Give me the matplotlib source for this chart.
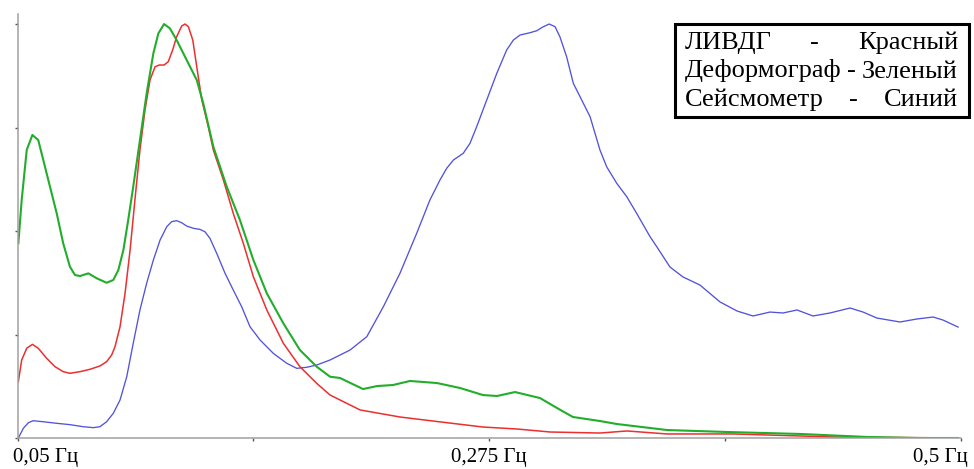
import numpy as np
import matplotlib
matplotlib.use("Agg")
import matplotlib.pyplot as plt
from matplotlib.patches import Rectangle
from matplotlib.transforms import ScaledTranslation

# frequency, Hz / relative amplitude
f_green = [0.0504, 0.0520, 0.0544, 0.0571, 0.0599, 0.0623, 0.0655, 0.0687, 0.0718, 0.0750,
           0.0774, 0.0798, 0.0838, 0.0878, 0.0925, 0.0957, 0.0981, 0.1005, 0.1028, 0.1052,
           0.1084, 0.1116, 0.1148, 0.1172, 0.1199, 0.1227, 0.1259, 0.1307, 0.1355, 0.1386,
           0.1434, 0.1498, 0.1561, 0.1625, 0.1689, 0.1768, 0.1847, 0.1927, 0.1991, 0.2038,
           0.2148, 0.2215, 0.2291, 0.2372, 0.2501, 0.2611, 0.2720, 0.2787, 0.2873, 0.2992,
           0.3073, 0.3149, 0.3278, 0.3359, 0.3598, 0.3884, 0.4232, 0.4552, 0.4790, 0.4986]
a_green = [1.881, 2.300, 2.783, 2.928, 2.879, 2.686, 2.428, 2.171, 1.881, 1.655,
           1.575, 1.565, 1.591, 1.543, 1.500, 1.527, 1.623, 1.816, 2.106, 2.428,
           2.879, 3.330, 3.717, 3.910, 4.000, 3.958, 3.845, 3.652, 3.459, 3.234,
           2.815, 2.428, 2.106, 1.720, 1.398, 1.108, 0.850, 0.689, 0.592, 0.580,
           0.473, 0.502, 0.512, 0.551, 0.531, 0.483, 0.415, 0.406, 0.444, 0.386,
           0.290, 0.203, 0.164, 0.135, 0.077, 0.058, 0.039, 0.010, 0.0, 0.0]

f_red = [0.0504, 0.0520, 0.0544, 0.0571, 0.0599, 0.0639, 0.0679, 0.0718, 0.0750, 0.0798,
         0.0846, 0.0893, 0.0925, 0.0949, 0.0965, 0.0989, 0.1013, 0.1037, 0.1060, 0.1084,
         0.1108, 0.1132, 0.1156, 0.1176, 0.1199, 0.1219, 0.1240, 0.1259, 0.1283, 0.1299,
         0.1315, 0.1336, 0.1355, 0.1379, 0.1410, 0.1434, 0.1482, 0.1529, 0.1577, 0.1625,
         0.1689, 0.1768, 0.1847, 0.1927, 0.1991, 0.2134, 0.2324, 0.2482, 0.2720, 0.2882,
         0.3040, 0.3278, 0.3407, 0.3598, 0.3913, 0.4390, 0.4986]
a_red = [0.544, 0.754, 0.867, 0.905, 0.867, 0.770, 0.689, 0.641, 0.625, 0.641,
         0.664, 0.696, 0.737, 0.802, 0.882, 1.075, 1.398, 1.816, 2.300, 2.783,
         3.169, 3.459, 3.587, 3.604, 3.604, 3.636, 3.749, 3.877, 3.981, 4.000,
         3.974, 3.845, 3.587, 3.266, 3.008, 2.783, 2.493, 2.171, 1.881, 1.558,
         1.237, 0.915, 0.689, 0.528, 0.415, 0.271, 0.203, 0.164, 0.106, 0.087,
         0.058, 0.048, 0.068, 0.039, 0.039, 0.010, 0.0]

f_blue = [0.0504, 0.0528, 0.0552, 0.0575, 0.0623, 0.0687, 0.0750, 0.0814, 0.0862, 0.0893,
          0.0925, 0.0957, 0.0989, 0.1021, 0.1052, 0.1084, 0.1116, 0.1148, 0.1180, 0.1212,
          0.1235, 0.1259, 0.1283, 0.1307, 0.1339, 0.1370, 0.1394, 0.1418, 0.1450, 0.1490,
          0.1529, 0.1569, 0.1609, 0.1657, 0.1720, 0.1784, 0.1832, 0.1879, 0.1927, 0.1991,
          0.2086, 0.2166, 0.2245, 0.2324, 0.2404, 0.2467, 0.2515, 0.2547, 0.2579, 0.2626,
          0.2658, 0.2690, 0.2738, 0.2786, 0.2833, 0.2865, 0.2897, 0.2944, 0.2976, 0.3008,
          0.3036, 0.3064, 0.3087, 0.3119, 0.3151, 0.3183, 0.3231, 0.3278, 0.3310, 0.3358,
          0.3406, 0.3453, 0.3517, 0.3550, 0.3612, 0.3674, 0.3755, 0.3851, 0.3932, 0.4008,
          0.4089, 0.4151, 0.4218, 0.4294, 0.4375, 0.4471, 0.4533, 0.4599, 0.4709, 0.4790,
          0.4867, 0.4914, 0.4986]
a_blue = [0.0, 0.094, 0.148, 0.167, 0.157, 0.142, 0.129, 0.109, 0.100, 0.109,
          0.157, 0.239, 0.367, 0.592, 0.915, 1.237, 1.495, 1.720, 1.913, 2.042,
          2.090, 2.100, 2.080, 2.048, 2.026, 2.016, 1.993, 1.929, 1.785, 1.591,
          1.430, 1.269, 1.075, 0.947, 0.818, 0.722, 0.673, 0.683, 0.705, 0.754,
          0.850, 0.979, 1.269, 1.591, 1.978, 2.300, 2.493, 2.606, 2.686, 2.751,
          2.847, 3.008, 3.266, 3.524, 3.749, 3.845, 3.894, 3.916, 3.935, 3.974,
          4.000, 3.974, 3.877, 3.684, 3.427, 3.298, 3.104, 2.783, 2.621, 2.461,
          2.331, 2.171, 1.945, 1.845, 1.652, 1.556, 1.478, 1.314, 1.227, 1.179,
          1.217, 1.208, 1.237, 1.179, 1.208, 1.256, 1.217, 1.159, 1.121, 1.150,
          1.169, 1.140, 1.072]

x_ticks = [0.05, 0.1625, 0.275, 0.3875, 0.5]
x_labels = ["0,05 Гц", "", "0,275 Гц", "", "0,5 Гц"]
y_ticks = [0, 1, 2, 3, 4]

legend_rows = [("ЛИВДГ", "Красный"), ("Деформограф", "Зеленый"), ("Сейсмометр", "Синий")]

W, H = 974, 469
fig = plt.figure(figsize=(W / 100, H / 100), dpi=100)
ax = fig.add_axes([17.5 / W, 1 - 438 / H, (961 - 17.5) / W, (438 - 14) / H])

ax.plot(f_blue, a_blue, color="#5252dc", lw=0.95, solid_joinstyle="round")
ax.plot(f_red, a_red, color="#ec2f2f", lw=1.1, solid_joinstyle="round")
ax.plot(f_green, a_green, color="#22ad2a", lw=1.5, solid_joinstyle="round")

ax.set_xlim(0.05, 0.5)
ax.set_ylim(0, 4.097)
for s in ["top", "right"]:
    ax.spines[s].set_visible(False)
for s in ["left", "bottom"]:
    ax.spines[s].set_color("#a0a0a0")
    ax.spines[s].set_linewidth(1.1)

ax.set_yticks(y_ticks)
ax.set_yticklabels([])
ax.set_xticks(x_ticks)
ax.set_xticklabels(x_labels, family="Liberation Serif", fontsize=15)
ax.tick_params(axis="both", length=2.5, width=1, color="#555555", pad=4.5)

lbls = ax.get_xticklabels()
lbls[0].set_horizontalalignment("left")
lbls[0].set_transform(lbls[0].get_transform() + ScaledTranslation(-0.045, 0, fig.dpi_scale_trans))
lbls[-1].set_horizontalalignment("right")
lbls[-1].set_transform(lbls[-1].get_transform() + ScaledTranslation(0.07, 0, fig.dpi_scale_trans))

# legend box
fig.patches.append(Rectangle((675 / W, 1 - 116.7 / H), 294 / W, 92.2 / H,
                             transform=fig.transFigure, facecolor="white",
                             edgecolor="black", lw=2.2, zorder=5))
baselines = [49, 77.5, 105.5]
fs = 19
fig.canvas.draw()
r = fig.canvas.get_renderer()
for (left, right), yb in zip(legend_rows, baselines):
    yy = 1 - yb / H
    t1 = fig.text(685 / W, yy, left, family="Liberation Serif", fontsize=fs,
                  va="baseline", ha="left", zorder=6)
    t2 = fig.text(958 / W, yy, right, family="Liberation Serif", fontsize=fs,
                  va="baseline", ha="right", zorder=6)
    e1 = t1.get_window_extent(r)
    e2 = t2.get_window_extent(r)
    xm = (e1.x1 + e2.x0) / 2 / W
    fig.text(xm, yy, "-", family="Liberation Serif", fontsize=fs,
             va="baseline", ha="center", zorder=6)

fig.savefig("out.png", dpi=100)
